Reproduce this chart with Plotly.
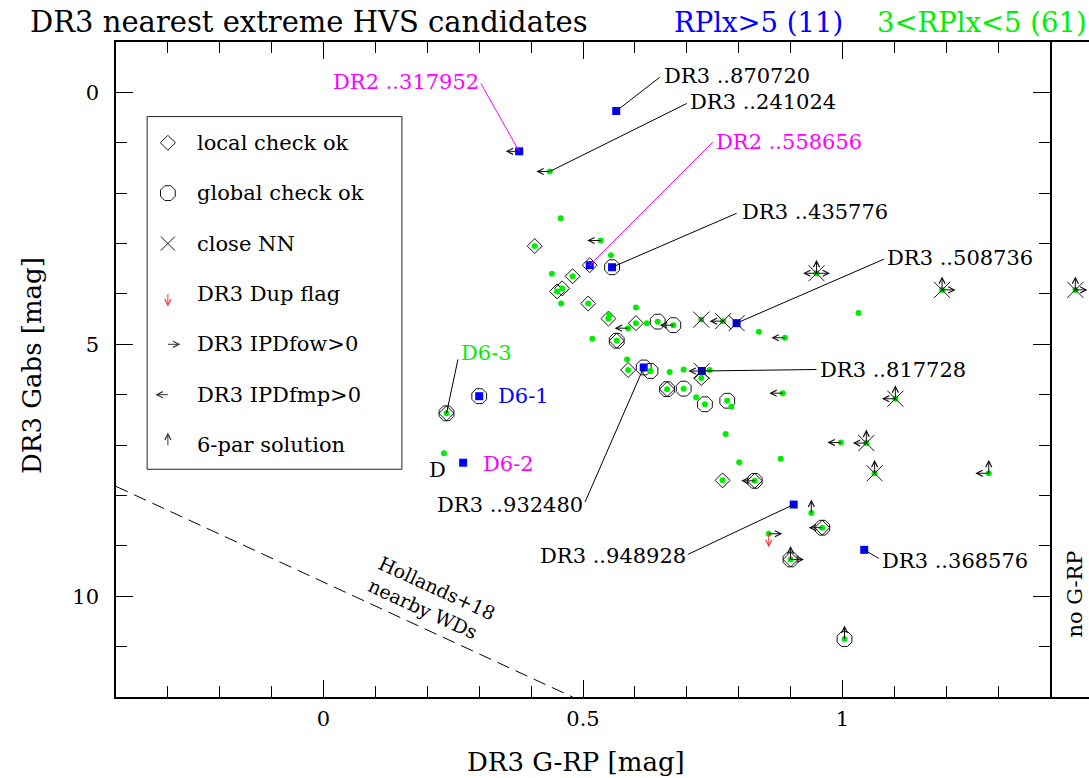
import plotly.graph_objects as go

# ---------------------------------------------------------------- data
# RPlx > 5 candidates (blue squares)
blue_x = [0.377, 0.564, 0.513, 0.556, 0.796, 0.617, 0.729, 0.300, 0.269, 0.906, 1.042]
blue_gabs = [1.17, 0.37, 3.43, 3.47, 4.58, 5.46, 5.53, 6.03, 7.35, 8.18, 9.08]
blue_flags = ["<", "", "d", "o", "x", "o", "x<", "o", "", "", ""]
blue_names = ["DR2 ..317952", "DR3 ..870720", "DR2 ..558656", "DR3 ..435776",
              "DR3 ..508736", "DR3 ..932480", "DR3 ..817728", "D6-1", "D6-2",
              "DR3 ..948928", "DR3 ..368576"]

# 3 < RPlx < 5 candidates (green dots)
green_x = [0.436, 0.457, 0.534, 0.407, 0.554, 0.440, 0.480, 0.450, 0.460, 0.458,
           0.510, 0.549, 0.551, 0.602, 0.602, 0.587, 0.623, 0.644, 0.674, 0.518,
           0.565, 0.728, 0.770, 0.585, 0.587, 0.630, 0.667, 0.694, 0.744, 0.728,
           0.662, 0.694, 0.718, 0.735, 0.778, 0.786, 0.775, 0.801, 0.769, 0.831,
           0.237, 0.232, 0.950, 1.192, 1.031, 0.839, 0.889, 0.885, 1.102, 0.997,
           1.046, 0.881, 1.062, 1.282, 0.940, 0.961, 0.858, 0.900, 1.004]
green_gabs = [1.57, 2.50, 2.94, 3.05, 3.23, 3.60, 3.65, 3.95, 3.89, 4.19,
              4.19, 4.49, 4.42, 4.27, 4.58, 4.68, 4.58, 4.55, 4.62, 4.89,
              4.93, 4.51, 4.54, 5.30, 5.51, 5.53, 5.55, 5.50, 5.51, 5.67,
              5.89, 5.88, 6.05, 6.19, 6.12, 6.24, 6.78, 7.34, 7.70, 7.71,
              6.37, 7.16, 3.59, 3.92, 4.38, 4.75, 4.87, 5.97, 6.08, 6.95,
              6.96, 7.27, 7.56, 7.56, 8.35, 8.64, 8.76, 9.27, 10.85]
green_flags = ["<", "", "<", "d", "", "", "d", "d", "d", "",
               "d", "d", "", "", "d", "<", "", "o", "o<", "",
               "od", "x", "x<", "", "d", "o", "", "", "", "d",
               "od", "o", "", "o", "o", "", "", "", "d", "od<",
               "od", "", "x^<>", "x^>", "", "", "<", "<", "x^<", "<",
               "x^<", "", "x^", "<^", "^", "od<", "v>", "od^>", "o^"]

# candidate without G-RP colour
nogrp_gabs = [3.92]
nogrp_flags = ["x^>"]

# Hollands+18 nearby white dwarf sequence
hollands_grp = [-0.4, 0.48]
hollands_gabs = [7.82, 12.0]

# axis ticks
x_ticks = [0, 0.5, 1]
x_ticktext = ["0", "0.5", "1"]
y_ticks = [0, 5, 10]
y_ticktext = ["0", "5", "10"]

# ---------------------------------------------------------------- styles
FONT = "DejaVu Serif"
BLUE = "#0000ff"
GREEN = "#00ee00"
MAGENTA = "#ff00ff"
INK = "#111111"
W, H = 1089, 778
ML, MR, MT, MB = 116, 0, 42, 81
PW, PH = W - ML - MR, H - MT - MB
X_SPLIT = (1050 - ML) / PW


def paper_x(px):
    return (px - ML) / PW


def paper_y(py):
    return (H - MB - py) / PH


def pick(xs, ys, flags, ch):
    sel = [(x, y) for x, y, f in zip(xs, ys, flags) if ch in f]
    return [s[0] for s in sel], [s[1] for s in sel]


all_x = green_x + blue_x
all_y = green_gabs + blue_gabs
all_f = green_flags + blue_flags

fig = go.Figure()

# Hollands+18 line
fig.add_trace(go.Scatter(x=hollands_grp, y=hollands_gabs, mode="lines",
                         line=dict(color="black", width=1, dash="13px,7px"),
                         hoverinfo="skip"))

# quality symbols
DIAMOND = dict(symbol="diamond-open", size=11.5, color=INK, line=dict(color=INK, width=1))
OCTAGON = dict(symbol="octagon-open", size=16, color=INK, line=dict(color=INK, width=1))
CROSS = dict(symbol="x-thin-open", size=16, color=INK, line=dict(color=INK, width=1))

dx, dy = pick(all_x, all_y, all_f, "d")
fig.add_trace(go.Scatter(x=dx, y=dy, mode="markers", marker=DIAMOND))
ox, oy = pick(all_x, all_y, all_f, "o")
fig.add_trace(go.Scatter(x=ox, y=oy, mode="markers", marker=OCTAGON))

# candidates
fig.add_trace(go.Scatter(x=green_x, y=green_gabs, mode="markers",
                         marker=dict(symbol="circle", size=6, color=GREEN,
                                     line=dict(width=0))))
fig.add_trace(go.Scatter(x=blue_x, y=blue_gabs, mode="markers",
                         marker=dict(symbol="square", size=8, color=BLUE,
                                     line=dict(width=0))))

# close nearest neighbour crosses
xx, xy = pick(all_x, all_y, all_f, "x")
fig.add_trace(go.Scatter(x=xx, y=xy, mode="markers", marker=CROSS))

# no G-RP panel
fig.add_trace(go.Scatter(x=[0.3] * len(nogrp_gabs), y=nogrp_gabs, mode="markers",
                         xaxis="x2", yaxis="y",
                         marker=dict(symbol="circle", size=6, color=GREEN,
                                     line=dict(width=0))))
fig.add_trace(go.Scatter(x=[0.3] * len(nogrp_gabs), y=nogrp_gabs, mode="markers",
                         xaxis="x2", yaxis="y", marker=CROSS))

annotations = []
shapes = []

ARROWS = {"<": (-15, 0), ">": (15, 0), "^": (0, -15), "v": (0, 15)}


def arrow(x, y, ch, xref="x", color=INK, length=15):
    ax, ay = ARROWS[ch]
    ax, ay = ax * length / 15, ay * length / 15
    return dict(x=x, y=y, xref=xref, yref="y", ax=ax, ay=ay, text="",
                showarrow=True, arrowside="start", startarrowhead=5,
                startarrowsize=1.2, arrowwidth=1, arrowcolor=color,
                standoff=0, startstandoff=0)


for x, y, f in zip(all_x, all_y, all_f):
    for ch in f:
        if ch in "<>^":
            annotations.append(arrow(x, y, ch))
        elif ch == "v":
            annotations.append(arrow(x, y, ch, color="#ff3030"))
for y, f in zip(nogrp_gabs, nogrp_flags):
    for ch in f:
        if ch in ARROWS:
            annotations.append(arrow(0.3, y, ch, xref="x2"))

# object labels: text anchor, alignment, colour, leader-line start
labels = [
    ("DR2 ..317952", 0.303, -0.20, "right", MAGENTA, (0.303, -0.18)),
    ("DR3 ..870720", 0.652, -0.32, "left", "black", (0.648, -0.30)),
    ("DR2 ..558656", 0.752, 0.99, "left", MAGENTA, (0.750, 0.99)),
    ("DR3 ..435776", 0.802, 2.38, "left", "black", (0.796, 2.40)),
    ("DR3 ..508736", 1.082, 3.29, "left", "black", (1.080, 3.31)),
    ("DR3 ..932480", 0.504, 8.19, "right", "black", (0.504, 8.13)),
    ("DR3 ..817728", 0.952, 5.50, "left", "black", (0.950, 5.50)),
    ("D6-1", 0.332, 6.03, "left", BLUE, None),
    ("D6-2", 0.303, 7.38, "left", MAGENTA, None),
    ("DR3 ..948928", 0.702, 9.21, "right", "black", (0.702, 9.17)),
    ("DR3 ..368576", 1.072, 9.31, "left", "black", (1.070, 9.25)),
]
for text, tx, ty, anchor, color, start in labels:
    i = blue_names.index(text)
    annotations.append(dict(x=tx, y=ty, xref="x", yref="y", text=text,
                            showarrow=False, xanchor=anchor, yanchor="middle",
                            font=dict(family=FONT, size=21, color=color)))
    if start is not None:
        line_color = MAGENTA if text.startswith("DR2") else "black"
        shapes.append(dict(type="line", xref="x", yref="y",
                           x0=start[0], y0=start[1], x1=blue_x[i], y1=blue_gabs[i],
                           line=dict(color=line_color, width=1)))

# DR3 ..241024 (green) and D6-3 (green) labels
annotations.append(dict(x=0.702, y=0.20, xref="x", yref="y", text="DR3 ..241024",
                        showarrow=False, xanchor="left", yanchor="middle",
                        font=dict(family=FONT, size=21, color="black")))
shapes.append(dict(type="line", xref="x", yref="y", x0=0.700, y0=0.22,
                   x1=green_x[0], y1=green_gabs[0], line=dict(color="black", width=1)))
annotations.append(dict(x=0.261, y=5.18, xref="x", yref="y", text="D6-3",
                        showarrow=False, xanchor="left", yanchor="middle",
                        font=dict(family=FONT, size=21, color=GREEN)))
shapes.append(dict(type="line", xref="x", yref="y", x0=0.259, y0=5.30,
                   x1=green_x[40], y1=green_gabs[40], line=dict(color="black", width=1)))
annotations.append(dict(x=0.220, y=7.50, xref="x", yref="y", text="D",
                        showarrow=False, xanchor="center", yanchor="middle",
                        font=dict(family=FONT, size=21, color="black")))

# Hollands+18 caption
annotations.append(dict(x=0.209, y=10.06, xref="x", yref="y",
                        text="Hollands+18<br>nearby WDs", showarrow=False,
                        textangle=24.7, align="left",
                        font=dict(family=FONT, size=19, color="black")))

# symbol key
shapes.append(dict(type="rect", xref="x", yref="y", x0=-0.340, x1=0.151,
                   y0=0.48, y1=7.48, line=dict(color="#222222", width=1),
                   fillcolor="rgba(0,0,0,0)"))
key_text = ["local check ok", "global check ok", "close NN", "DR3 Dup flag",
            "DR3 IPDfow>0", "DR3 IPDfmp>0", "6-par solution"]
for k, t in enumerate(key_text):
    annotations.append(dict(x=-0.248, y=k + 1, xref="x", yref="y", text=t,
                            showarrow=False, xanchor="left", yanchor="middle",
                            font=dict(family=FONT, size=21, color="black")))
fig.add_trace(go.Scatter(x=[-0.300], y=[1], mode="markers", marker=DIAMOND))
fig.add_trace(go.Scatter(x=[-0.300], y=[2], mode="markers", marker=OCTAGON))
fig.add_trace(go.Scatter(x=[-0.300], y=[3], mode="markers",
                         marker=dict(CROSS, size=14)))
annotations.append(arrow(-0.300, 4.0, "v", color="#ff3030", length=14))
annotations.append(arrow(-0.300, 5.0, ">", color="#333333", length=14))
annotations.append(arrow(-0.300, 6.0, "<", color="#333333", length=14))
annotations.append(arrow(-0.300, 7.0, "^", color="#333333", length=14))

# "no G-RP" panel caption
annotations.append(dict(x=0.3, y=9.96, xref="x2", yref="y", text="no G-RP",
                        showarrow=False, textangle=-90,
                        xanchor="center", yanchor="middle",
                        font=dict(family=FONT, size=21, color="black")))

# title pieces
title_parts = [("DR3 nearest extreme HVS candidates", 28, "black", 29),
               ("RPlx>5 (11)", 672, BLUE, 27.5),
               ("3<RPlx<5 (61)", 875, GREEN, 27.5)]
for t, px, c, fs in title_parts:
    annotations.append(dict(x=paper_x(px), y=paper_y(22), xref="paper", yref="paper",
                            text=t, showarrow=False, xanchor="left", yanchor="middle",
                            font=dict(family=FONT, size=fs, color=c)))

# axis titles
annotations.append(dict(x=paper_x(576), y=paper_y(762), xref="paper", yref="paper",
                        text="DR3 G-RP [mag]", showarrow=False,
                        xanchor="center", yanchor="middle",
                        font=dict(family=FONT, size=26, color="black")))
annotations.append(dict(x=paper_x(32), y=paper_y(366), xref="paper", yref="paper",
                        text="DR3 Gabs [mag]", showarrow=False, textangle=-90,
                        xanchor="center", yanchor="middle",
                        font=dict(family=FONT, size=26, color="black")))

axis_common = dict(showgrid=False, zeroline=False, showline=True, linecolor="black",
                   linewidth=1.5, ticks="inside", ticklen=17, tickwidth=1.3,
                   tickcolor="black", mirror="ticks",
                   tickfont=dict(family=FONT, size=21, color="black"))

fig.update_layout(
    width=W, height=H,
    margin=dict(l=ML, r=MR, t=MT, b=MB, pad=0),
    paper_bgcolor="white", plot_bgcolor="white",
    showlegend=False,
    xaxis=dict(domain=[0, X_SPLIT], range=[-0.4, 1.4], tickmode="array",
               tickvals=x_ticks, ticktext=x_ticktext, ticklabelstandoff=2,
               minor=dict(dtick=0.1, tick0=0, ticks="inside", ticklen=11,
                          tickwidth=1.2, tickcolor="black"),
               **axis_common),
    yaxis=dict(range=[12, -1], tickmode="array", tickvals=y_ticks,
               ticktext=y_ticktext, ticklabelstandoff=11,
               minor=dict(dtick=1, tick0=0, ticks="inside", ticklen=11,
                          tickwidth=1.2, tickcolor="black"),
               **axis_common),
    xaxis2=dict(domain=[X_SPLIT, 1], range=[-1, 1], anchor="y", showgrid=False,
                zeroline=False, showline=True, mirror=True, linecolor="black",
                linewidth=1.5, ticks="", showticklabels=False),
    annotations=annotations,
    shapes=shapes,
)

fig.write_html("out.html")
